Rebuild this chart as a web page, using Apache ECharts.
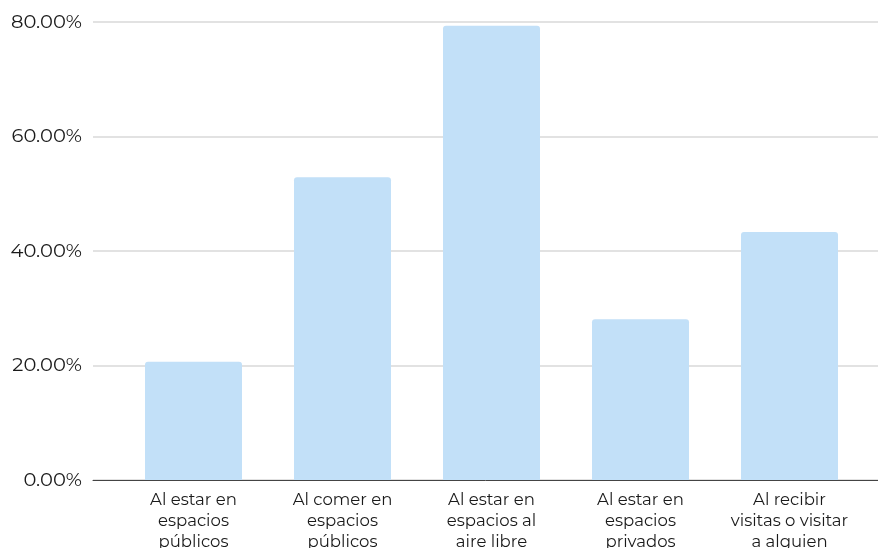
<!DOCTYPE html>
<html>
<head>
<meta charset="utf-8">
<script src="https://cdn.jsdelivr.net/npm/echarts@6/dist/echarts.min.js"></script>
<style>
  html, body { margin: 0; padding: 0; background: #ffffff; }
  #chart { width: 878px; height: 548px; }
</style>
</head>
<body>
<div id="chart"></div>
<script>
// Situations (axis categories) and share of respondents for each one, in percent
const categories = [
  'Al estar en\nespacios\npúblicos',
  'Al comer en\nespacios\npúblicos',
  'Al estar en\nespacios al\naire libre',
  'Al estar en\nespacios\nprivados',
  'Al recibir\nvisitas o visitar\na alguien'
];
const shares = [20.66, 52.87, 79.35, 28.07, 43.32];
const yTicks = { min: 0, max: 80, step: 20 };

const FONT = 'Montserrat, "Noto Sans", sans-serif';
const chart = echarts.init(document.getElementById('chart'), null, { renderer: 'canvas' });

chart.setOption({
  animation: false,
  backgroundColor: '#ffffff',
  grid: [
    // frame carrying the value scale, gridlines and baseline
    { left: 93, right: 0, top: 22, bottom: 68, containLabel: false, outerBoundsMode: 'none' },
    // inner band holding the bars and category labels (labels may run past the bottom edge)
    { left: 119, right: 14, top: 22, bottom: 68, containLabel: false, outerBoundsMode: 'none' }
  ],
  xAxis: [
    {
      gridIndex: 0, type: 'value', min: 0, max: 1,
      axisLine: { show: true, onZero: false, lineStyle: { color: '#444444', width: 1 } },
      axisTick: { show: false }, axisLabel: { show: false }, splitLine: { show: false }
    },
    {
      gridIndex: 1, type: 'category', data: categories,
      axisLine: { show: false }, axisTick: { show: false },
      axisLabel: {
        interval: 0, margin: 10, color: '#1a1a1a',
        fontFamily: FONT, fontSize: 16.5, lineHeight: 21, align: 'center'
      }
    }
  ],
  yAxis: [
    {
      gridIndex: 0, type: 'value',
      min: yTicks.min, max: yTicks.max, interval: yTicks.step,
      axisLine: { show: false }, axisTick: { show: false },
      axisLabel: {
        margin: 11, color: '#1a1a1a', fontFamily: FONT, fontSize: 19.5,
        formatter: v => v.toFixed(2) + '%'
      },
      splitLine: { show: true, lineStyle: { color: '#d9d9d9', width: 1.5 } }
    },
    {
      gridIndex: 1, type: 'value',
      min: yTicks.min, max: yTicks.max, interval: yTicks.step,
      axisLine: { show: false }, axisTick: { show: false },
      axisLabel: { show: false }, splitLine: { show: false }
    }
  ],
  series: [{
    type: 'bar',
    xAxisIndex: 1, yAxisIndex: 1,
    data: shares,
    barWidth: 97,
    z: 3,
    itemStyle: { color: '#c2e0f8', borderRadius: [3, 3, 0, 0] }
  }]
});
</script>
</body>
</html>
